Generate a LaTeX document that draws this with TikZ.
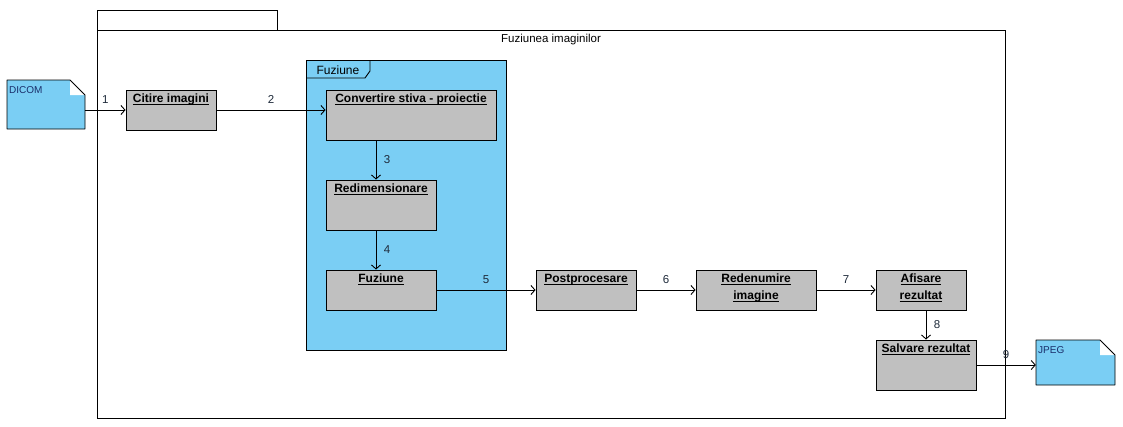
\documentclass[tikz,border=0pt]{standalone}
\usepackage{fontspec}
\setmainfont{Liberation Sans}
\usepackage{xcolor}
\usetikzlibrary{arrows.meta}
\definecolor{myblue}{HTML}{7ACEF4}
\definecolor{mygray}{HTML}{C0C0C0}
\definecolor{myink}{HTML}{1E2A3A}
\definecolor{mynavy}{HTML}{1A2F6B}
\newcommand{\ultext}[1]{\underline{\vphantom{A}\smash{#1}}}

\tikzset{
  actbox/.style={draw, fill=mygray, line width=0.9pt, minimum width=#1},
  acttitle/.style={anchor=north, inner sep=4.5pt, font=\fontsize{12}{17}\selectfont\bfseries, align=center},
  flow/.style={-{Straight Barb[length=4pt, width=9pt]}, line width=0.9pt},
  num/.style={text=myink, font=\fontsize{11.5}{13}\selectfont},
}

\begin{document}
\begin{tikzpicture}[x=1pt, y=-1pt]
\useasboundingbox (0,0) rectangle (1123,426);

% OUTER FRAME
\draw[line width=0.9pt] (97,30) rectangle (277,10);
\draw[line width=0.9pt] (97,30) rectangle (1005,418);
\node[font=\fontsize{11.5}{13}\selectfont] (frametitle) at (551,40) {Fuziunea imaginilor};

% PACKAGE
\draw[line width=0.9pt, fill=myblue] (306,60) rectangle (506,350);
\draw[line width=0.9pt] (306,78) -- (365,78) -- (370,71) -- (370,60);
\node[font=\fontsize{12}{13}\selectfont] (pkgtitle) at (338,70) {Fuziune};

% NOTES
\foreach \nx/\ny/\nw/\nh/\nname in {7/80/78/49/DICOM, 1036/340/79/45/JPEG} {
  \fill[myblue] (\nx,\ny) -- ({\nx+\nw-15},\ny) -- ({\nx+\nw},{\ny+15}) -- ({\nx+\nw},{\ny+\nh}) -- (\nx,{\ny+\nh}) -- cycle;
  \fill[white] ({\nx+\nw-15},\ny) -- ({\nx+\nw},{\ny+15}) -- ({\nx+\nw-15},{\ny+15}) -- cycle;
  \draw[line width=0.9pt, line join=round] (\nx,\ny) -- ({\nx+\nw-15},\ny) -- ({\nx+\nw},{\ny+15}) -- ({\nx+\nw},{\ny+\nh}) -- (\nx,{\ny+\nh}) -- cycle;
  \node[anchor=north west, inner sep=1pt, text=mynavy, font=\fontsize{10}{11}\selectfont] at ({\nx+1},{\ny+5}) {\nname};
}
\node[minimum width=78, minimum height=49, inner sep=0pt] (dicom) at (46,104.5) {};
\node[minimum width=79, minimum height=45, inner sep=0pt] (jpeg) at (1075.5,362.5) {};

% ACTIONS
\node[actbox=90, minimum height=40] (citire) at (171,110) {};
\node[acttitle] at (citire.north) {\ultext{Citire imagini}};
\node[actbox=170, minimum height=50] (convert) at (411,115) {};
\node[acttitle] at (convert.north) {\ultext{Convertire stiva - proiectie}};
\node[actbox=110, minimum height=50] (redim) at (381,205) {};
\node[acttitle] at (redim.north) {\ultext{Redimensionare}};
\node[actbox=110, minimum height=40] (fuz) at (381,290) {};
\node[acttitle] at (fuz.north) {\ultext{Fuziune}};
\node[actbox=100, minimum height=40] (post) at (586,290) {};
\node[acttitle] at (post.north) {\ultext{Postprocesare}};
\node[actbox=120, minimum height=40] (rename) at (756,290) {};
\node[acttitle] at (rename.north) {\ultext{Redenumire}\\\ultext{imagine}};
\node[actbox=90, minimum height=40] (afis) at (921,290) {};
\node[acttitle] at (afis.north) {\ultext{Afisare}\\\ultext{rezultat}};
\node[actbox=100, minimum height=50] (salv) at (926,365) {};
\node[acttitle] at (salv.north) {\ultext{Salvare rezultat}};

% FLOWS
\draw[flow] (dicom.east |- citire) -- node[num, midway, above=3pt] {1} (citire.west);
\draw[flow] (citire.east) -- node[num, midway, above=3pt] {2} (convert.west |- citire);
\draw[flow] ([xshift=-5pt]redim.north |- convert.south) -- node[num, midway, right=4pt] {3} ([xshift=-5pt]redim.north);
\draw[flow] ([xshift=-5pt]redim.south) -- node[num, midway, right=4pt] {4} ([xshift=-5pt]fuz.north);
\draw[flow] (fuz.east) -- node[num, midway, above=3pt] {5} (post.west);
\draw[flow] (post.east) -- node[num, midway, above=3pt] {6} (rename.west);
\draw[flow] (rename.east) -- node[num, midway, above=3pt] {7} (afis.west);
\draw[flow] (salv.north |- afis.south) -- node[num, midway, right=4pt] {8} (salv.north);
\draw[flow] (salv.east) -- node[num, midway, above=3pt] {9} (jpeg.west |- salv);

\end{tikzpicture}
\end{document}
